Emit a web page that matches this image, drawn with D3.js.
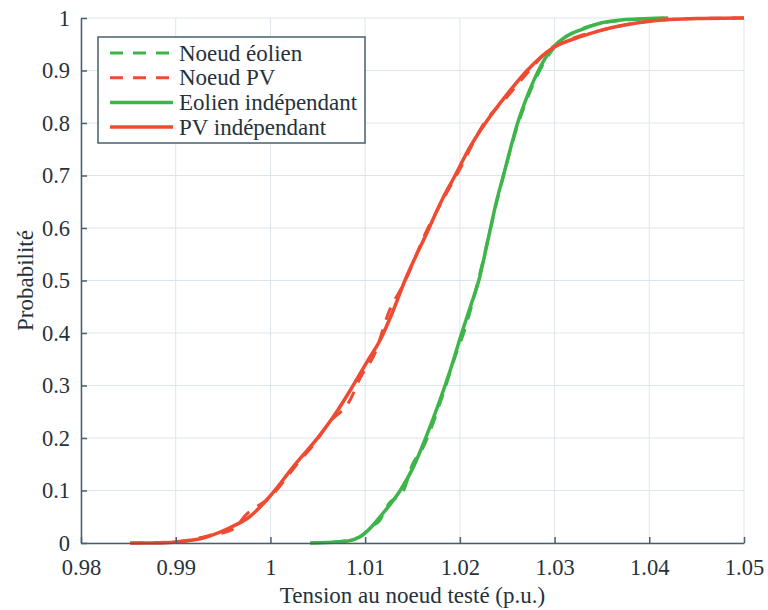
<!DOCTYPE html>
<html>
<head>
<meta charset="utf-8">
<script src="https://cdn.jsdelivr.net/npm/d3@7"></script>
<style>
  body { margin: 0; background: #fff; }
</style>
</head>
<body>
<div id="chart"></div>
<script>
// chart values
const xTicks = [0.98, 0.99, 1, 1.01, 1.02, 1.03, 1.04, 1.05];
const yTicks = [0, 0.1, 0.2, 0.3, 0.4, 0.5, 0.6, 0.7, 0.8, 0.9, 1];

// Noeud éolien (dashed)
const noeudEolienX = [1.0042, 1.0073, 1.0095, 1.0105, 1.0115, 1.0125, 1.0140, 1.0150, 1.0160, 1.0182, 1.0195, 1.0205, 1.0220, 1.0239, 1.0261, 1.0283, 1.0298, 1.0327, 1.0350, 1.0400, 1.0420];
const noeudEolienP = [0, 0.003, 0.012, 0.030, 0.042, 0.075, 0.098, 0.150, 0.178, 0.282, 0.355, 0.405, 0.505, 0.650, 0.795, 0.895, 0.940, 0.978, 0.990, 0.999, 1];

// Noeud PV (dashed)
const noeudPvX = [0.9852, 0.9900, 0.9935, 0.9960, 0.9975, 1.0000, 1.0028, 1.0050, 1.0060, 1.0084, 1.0095, 1.0110, 1.0125, 1.0142, 1.0165, 1.0181, 1.0200, 1.0225, 1.0250, 1.0271, 1.0298, 1.0325, 1.0350, 1.0400, 1.0450, 1.0500];
const noeudPvP = [0, 0.002, 0.014, 0.026, 0.055, 0.088, 0.150, 0.198, 0.225, 0.272, 0.315, 0.360, 0.440, 0.498, 0.595, 0.650, 0.712, 0.798, 0.850, 0.895, 0.945, 0.965, 0.977, 0.994, 0.999, 1];

// Eolien indépendant (solid)
const eolienIndX = [1.0042, 1.0073, 1.0090, 1.0100, 1.0119, 1.0137, 1.0151, 1.0163, 1.0179, 1.0190, 1.0202, 1.0212, 1.0220, 1.0230, 1.0239, 1.0246, 1.0261, 1.0272, 1.0283, 1.0298, 1.0312, 1.0327, 1.0350, 1.0375, 1.0400, 1.0420];
const eolienIndP = [0, 0.002, 0.008, 0.019, 0.057, 0.100, 0.145, 0.196, 0.272, 0.330, 0.400, 0.455, 0.500, 0.580, 0.653, 0.700, 0.800, 0.855, 0.900, 0.943, 0.965, 0.977, 0.991, 0.997, 0.999, 1];

// PV indépendant (solid)
const pvIndX = [0.9852, 0.9880, 0.9900, 0.9930, 0.9957, 0.9978, 1.0000, 1.0024, 1.0052, 1.0070, 1.0084, 1.0102, 1.0116, 1.0129, 1.0142, 1.0165, 1.0181, 1.0195, 1.0210, 1.0227, 1.0250, 1.0271, 1.0298, 1.0325, 1.0350, 1.0375, 1.0400, 1.0450, 1.0500];
const pvIndP = [0, 0, 0.002, 0.010, 0.029, 0.050, 0.090, 0.145, 0.205, 0.250, 0.290, 0.345, 0.387, 0.440, 0.500, 0.590, 0.653, 0.700, 0.752, 0.800, 0.855, 0.900, 0.943, 0.963, 0.977, 0.987, 0.994, 0.999, 1];

const seriesNames = ["Noeud éolien", "Noeud PV", "Eolien indépendant", "PV indépendant"];

const green = "#3db54a", red = "#ef4b33";
const axisColor = "#46606c";
const textColor = "#26323a";
const serif = "Liberation Serif";

const width = 768, height = 610;
const margin = {top: 18, right: 24, bottom: 67, left: 81};
const plotW = width - margin.left - margin.right;
const plotH = height - margin.top - margin.bottom;

let svg = d3.select("#chart")
    .append("svg")
    .attr("width", width)
    .attr("height", height)
    .attr("font-family", serif)
    .append("g")
    .attr("transform", `translate(${margin.left}, ${margin.top})`);

let x = d3.scaleLinear().domain([0.98, 1.05]).range([0, plotW]);
let y = d3.scaleLinear().domain([0, 1]).range([plotH, 0]);

// grid
svg.append("g").selectAll("line").data(xTicks).enter()
    .append("line")
    .attr("x1", d => x(d)).attr("x2", d => x(d))
    .attr("y1", 0).attr("y2", plotH)
    .attr("stroke", "#dde5ec").attr("stroke-width", 1);
svg.append("g").selectAll("line").data(yTicks).enter()
    .append("line")
    .attr("x1", 0).attr("x2", plotW)
    .attr("y1", d => y(d)).attr("y2", d => y(d))
    .attr("stroke", "#dde5ec").attr("stroke-width", 1);

// curves
let line = d3.line()
    .x(d => x(d[0]))
    .y(d => y(d[1]))
    .curve(d3.curveMonotoneX);

const series = [
    {name: seriesNames[0], xs: noeudEolienX, ps: noeudEolienP, color: green, dash: "13,10", width: 3},
    {name: seriesNames[1], xs: noeudPvX, ps: noeudPvP, color: red, dash: "13,10", width: 3},
    {name: seriesNames[2], xs: eolienIndX, ps: eolienIndP, color: green, dash: null, width: 3.5},
    {name: seriesNames[3], xs: pvIndX, ps: pvIndP, color: red, dash: null, width: 3.5}
];

series.forEach(function(s) {
    svg.append("path")
        .datum(s.xs.map((v, i) => [v, s.ps[i]]))
        .attr("fill", "none")
        .attr("stroke", s.color)
        .attr("stroke-width", s.width)
        .attr("stroke-dasharray", s.dash)
        .attr("stroke-linejoin", "round")
        .attr("d", line);
});

// axes (ticks pointing inward)
let xAxis = svg.append("g")
    .attr("transform", `translate(0, ${plotH})`)
    .call(d3.axisBottom(x).tickValues(xTicks).tickFormat(d3.format("")).tickSizeInner(-6).tickSizeOuter(0).tickPadding(16));
let yAxis = svg.append("g")
    .call(d3.axisLeft(y).tickValues(yTicks).tickFormat(d3.format("")).tickSizeInner(-6).tickSizeOuter(0).tickPadding(11));

[xAxis, yAxis].forEach(function(a) {
    a.attr("font-family", serif).attr("font-size", 22.5);
    a.select(".domain").attr("stroke", axisColor).attr("stroke-width", 1.5);
    a.selectAll(".tick line").attr("stroke", axisColor).attr("stroke-width", 1.5);
    a.selectAll(".tick text").attr("fill", textColor);
});

// axis titles
svg.append("text")
    .attr("x", plotW / 2)
    .attr("y", plotH + 60)
    .attr("text-anchor", "middle")
    .attr("font-size", 23)
    .attr("fill", textColor)
    .text("Tension au noeud testé (p.u.)");

svg.append("text")
    .attr("transform", `translate(${33 - margin.left}, ${plotH / 2}) rotate(-90)`)
    .attr("text-anchor", "middle")
    .attr("font-size", 23)
    .attr("fill", textColor)
    .text("Probabilité");

// legend
let legend = svg.append("g").attr("transform", `translate(${98 - margin.left}, ${37 - margin.top})`);
legend.append("rect")
    .attr("width", 267).attr("height", 106)
    .attr("fill", "#fff")
    .attr("stroke", axisColor).attr("stroke-width", 1.5);

series.forEach(function(s, i) {
    let row = legend.append("g").attr("transform", `translate(0, ${16 + i * 24.7})`);
    row.append("line")
        .attr("x1", 12).attr("x2", 75)
        .attr("stroke", s.color)
        .attr("stroke-width", s.width)
        .attr("stroke-dasharray", s.dash);
    row.append("text")
        .attr("x", 81)
        .attr("dy", "0.33em")
        .attr("font-size", 23)
        .attr("fill", textColor)
        .text(s.name);
});
</script>
</body>
</html>
